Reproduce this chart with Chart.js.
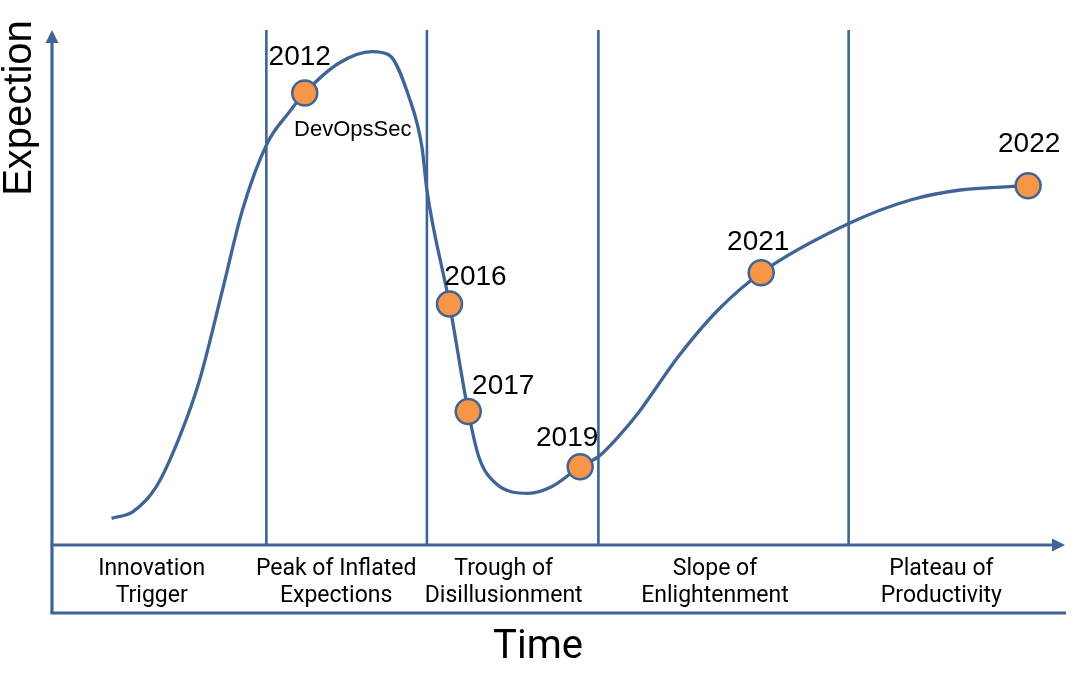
<!DOCTYPE html>
<html>
<head>
<meta charset="utf-8">
<script src="https://cdn.jsdelivr.net/npm/chart.js@4"></script>
<style>
  html, body { margin: 0; padding: 0; background: #fff; }
  #wrap { width: 1080px; height: 674px; position: relative; }
</style>
</head>
<body>
<div id="wrap"><canvas id="hypeChart"></canvas></div>
<script>
// hype curve (x: time 0-100, y: expectation 0-100)
const curveX = [5.88, 8.0, 10.30, 12.60, 14.57, 16.83, 18.80, 21.26, 23.43, 24.95, 28.35, 31.59, 33.27, 35.24, 36.52, 37.01, 39.24, 41.09, 42.13, 43.77, 47.05, 49.31, 52.14, 53.94, 55.91, 57.87, 61.81, 65.75, 70.01, 78.71, 84.74, 89.67, 96.36];
const curveY = [5.18, 6.5, 11.32, 21.03, 32.04, 49.51, 65.05, 78.06, 84.08, 87.77, 93.59, 95.79, 95.15, 86.99, 77.28, 68.93, 46.80, 25.92, 17.15, 12.04, 10.04, 11.32, 15.20, 17.15, 21.03, 25.63, 36.56, 45.63, 52.87, 62.47, 66.99, 68.93, 69.77];

// milestones on the curve
const years = ["2012", "2016", "2017", "2019", "2021", "2022"];
const pointX = [24.95, 39.24, 41.09, 52.14, 70.01, 96.36];
const pointY = [87.77, 46.80, 25.92, 15.20, 52.87, 69.77];

// phases
const phaseNames = [
  ["Innovation", "Trigger"],
  ["Peak of Inflated", "Expections"],
  ["Trough of", "Disillusionment"],
  ["Slope of", "Enlightenment"],
  ["Plateau of", "Productivity"],
];
const phaseBounds = [21.16, 37.01, 53.94, 78.64];

const BLUE = "#3f6495";
const ORANGE = "#f79646";

// label placement (pixels, relative to each point) and phase label centres
const labelOffsets = [[-5, -28], [26, -19], [35, -18], [-13, -21], [-3, -23], [1, -34]];
const phaseLabelX = [9.84, 28.05, 44.59, 65.45, 87.8];

function strokeLine(ctx, x1, y1, x2, y2) {
  ctx.beginPath();
  ctx.moveTo(x1, y1);
  ctx.lineTo(x2, y2);
  ctx.stroke();
}

const hypeDecor = {
  id: "hypeDecor",
  beforeDatasetsDraw(chart) {
    const { ctx, chartArea, scales } = chart;
    const top = chartArea.top, bottom = chartArea.bottom;
    const left = chartArea.left, right = chartArea.right;
    ctx.save();
    ctx.strokeStyle = BLUE;
    ctx.fillStyle = BLUE;

    // phase separators
    ctx.lineWidth = 2.6;
    phaseBounds.forEach((v) => {
      const px = scales.x.getPixelForValue(v);
      strokeLine(ctx, px, top, px, bottom);
    });

    // axes and the label box
    ctx.lineWidth = 3.2;
    strokeLine(ctx, left, top + 10, left, bottom + 69);
    strokeLine(ctx, left - 1.5, bottom, right - 10, bottom);
    strokeLine(ctx, left - 1.5, bottom + 68, right + 1, bottom + 68);

    // arrow heads
    ctx.beginPath();
    ctx.moveTo(left, top);
    ctx.lineTo(left - 6.5, top + 13);
    ctx.lineTo(left + 6.5, top + 13);
    ctx.closePath();
    ctx.fill();
    ctx.beginPath();
    ctx.moveTo(right, bottom);
    ctx.lineTo(right - 13, bottom - 6.5);
    ctx.lineTo(right - 13, bottom + 6.5);
    ctx.closePath();
    ctx.fill();
    ctx.restore();
  },
  afterDatasetsDraw(chart) {
    const { ctx, chartArea, scales } = chart;
    const bottom = chartArea.bottom;
    ctx.save();
    ctx.fillStyle = "#000";
    ctx.textAlign = "center";
    ctx.textBaseline = "alphabetic";

    // year labels
    ctx.font = '28px "Liberation Sans", Arial, sans-serif';
    years.forEach((yr, i) => {
      const px = scales.x.getPixelForValue(pointX[i]);
      const py = scales.y.getPixelForValue(pointY[i]);
      ctx.fillText(yr, px + labelOffsets[i][0], py + labelOffsets[i][1]);
    });

    // the 2012 tag
    ctx.font = '22px "Liberation Sans", Arial, sans-serif';
    const tx = scales.x.getPixelForValue(pointX[0]);
    const ty = scales.y.getPixelForValue(pointY[0]);
    ctx.fillText("DevOpsSec", tx + 48, ty + 43);

    // phase names under the axis
    ctx.font = "23px Roboto, sans-serif";
    phaseNames.forEach((lines, i) => {
      const px = scales.x.getPixelForValue(phaseLabelX[i]);
      ctx.fillText(lines[0], px, bottom + 30);
      ctx.fillText(lines[1], px, bottom + 57);
    });

    // axis titles
    ctx.font = "40px Roboto, sans-serif";
    ctx.fillText("Time", 538, 658);
    ctx.font = '40px "Liberation Sans", Arial, sans-serif';
    ctx.translate(31, 108);
    ctx.rotate(-Math.PI / 2);
    ctx.fillText("Expection", 0, 0);
    ctx.restore();
  },
};

new Chart(document.getElementById("hypeChart"), {
  type: "line",
  data: {
    datasets: [
      {
        type: "scatter",
        label: "milestones",
        data: pointX.map((x, i) => ({ x: x, y: pointY[i] })),
        pointRadius: 12.5,
        pointBackgroundColor: ORANGE,
        pointBorderColor: BLUE,
        pointBorderWidth: 2.5,
        order: 0,
        clip: false,
      },
      {
        label: "hype",
        data: curveX.map((x, i) => ({ x: x, y: curveY[i] })),
        borderColor: BLUE,
        borderWidth: 3.3,
        pointRadius: 0,
        fill: false,
        cubicInterpolationMode: "monotone",
        order: 1,
        clip: false,
      },
    ],
  },
  options: {
    responsive: true,
    maintainAspectRatio: false,
    animation: false,
    layout: { padding: { left: 52, right: 12, top: 30, bottom: 129 } },
    scales: {
      x: { type: "linear", min: 0, max: 100, display: false },
      y: { min: 0, max: 100, display: false },
    },
    plugins: {
      legend: { display: false },
      tooltip: { enabled: false },
    },
  },
  plugins: [hypeDecor],
});
</script>
</body>
</html>
